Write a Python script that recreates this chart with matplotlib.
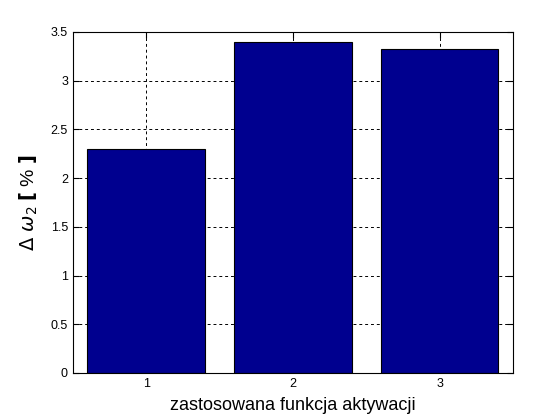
import numpy as np
import matplotlib
matplotlib.use("Agg")
import matplotlib.pyplot as plt

# wartosci
funkcje = [1, 2, 3]
delta_omega2 = [2.3, 3.4, 3.32]
yticks = [0, 0.5, 1, 1.5, 2, 2.5, 3, 3.5]

plt.rcParams['font.family'] = ['Liberation Sans', 'DejaVu Sans']

fig = plt.figure(figsize=(5.6, 4.2), dpi=100)
ax = fig.add_axes([0.130, 0.112, 0.786, 0.812])

ax.bar(funkcje, delta_omega2, width=0.8, color='#00008F', edgecolor='black', linewidth=0.8, zorder=2)

ax.set_xlim(0.5, 3.5)
ax.set_ylim(0, 3.5)
ax.set_xticks(funkcje)
ax.set_yticks(yticks)
ax.set_yticklabels([("%g" % v) for v in yticks])
ax.tick_params(direction='in', length=4, labelsize=9, top=True, right=True)
ax.grid(True, color='black', linestyle=(0, (3, 3)), linewidth=0.7, zorder=0)
ax.set_axisbelow(True)

ax.set_xlabel("zastosowana funkcja aktywacji", fontsize=13, labelpad=5)
ax.set_ylabel(r"$\Delta\ \omega_2$ $\mathbf{[}$ % $\mathbf{]}$", fontsize=14, labelpad=8)

fig.savefig("out.png", dpi=100)
